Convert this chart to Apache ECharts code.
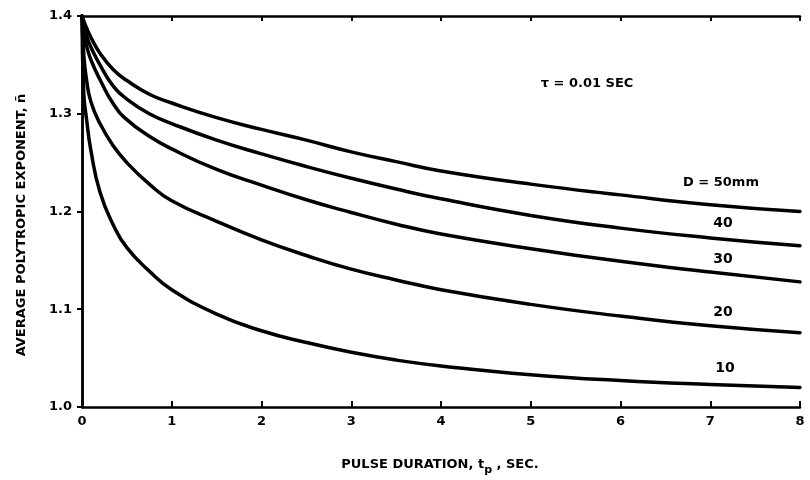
<!DOCTYPE html>
<html><head><meta charset="utf-8">
<script src="https://cdn.jsdelivr.net/npm/echarts@6/dist/echarts.min.js"></script>
<style>html,body{margin:0;padding:0;background:#fff}#c{width:810px;height:480px}</style>
</head><body><div id="c"></div>
<script>
// Pulse duration t_p (sec)
const tp  = [0, 0.02, 0.05, 0.1, 0.2, 0.35, 0.5, 0.75, 1, 1.5, 2, 2.5, 3, 3.5, 4, 5, 6, 7, 8];
// Average polytropic exponent for each diameter D
const n10 = [1.40, 1.320, 1.295, 1.262, 1.220, 1.186, 1.163, 1.139, 1.120, 1.095, 1.078, 1.066, 1.056, 1.048, 1.042, 1.033, 1.027, 1.023, 1.020];
const n20 = [1.40, 1.360, 1.335, 1.312, 1.290, 1.267, 1.250, 1.228, 1.211, 1.190, 1.171, 1.155, 1.141, 1.130, 1.120, 1.105, 1.093, 1.083, 1.076];
const n30 = [1.40, 1.385, 1.370, 1.355, 1.335, 1.310, 1.294, 1.277, 1.264, 1.243, 1.227, 1.212, 1.199, 1.187, 1.177, 1.162, 1.149, 1.138, 1.128];
const n40 = [1.40, 1.390, 1.380, 1.368, 1.350, 1.328, 1.315, 1.300, 1.290, 1.273, 1.259, 1.246, 1.234, 1.223, 1.213, 1.196, 1.183, 1.173, 1.165];
const n50 = [1.40, 1.395, 1.388, 1.378, 1.362, 1.345, 1.334, 1.320, 1.311, 1.296, 1.284, 1.273, 1.261, 1.251, 1.2415, 1.228, 1.217, 1.207, 1.200];
const curveLabels = ['10', '20', '30', '40', 'D = 50mm'];
const xTickLabels = ['0','1','2','3','4','5','6','7','8'];
const yTickLabels = ['1.0','1.1','1.2','1.3','1.4'];
const tauNote = 'τ = 0.01 SEC';

const allN = [n10, n20, n30, n40, n50];
const FONT = 'DejaVu Sans';
const chart = echarts.init(document.getElementById('c'));

const series = allN.map((arr, i) => ({
  type: 'line',
  name: curveLabels[i],
  data: tp.map((t, k) => [t, arr[k]]),
  smooth: 0.5,
  showSymbol: false,
  lineStyle: { color: '#000', width: 3.5, join: 'round', cap: 'round' },
  animation: false
}));

const axisCommon = {
  axisLine: { show: true, lineStyle: { color: '#000', width: 2.5 } },
  splitLine: { show: false }
};

chart.setOption({
  backgroundColor: '#fff',
  animation: false,
  grid: { left: 82, right: 10, top: 16, bottom: 73, show: false },
  xAxis: [
    Object.assign({
      type: 'value', min: 0, max: 8, interval: 1, position: 'bottom',
      axisTick: { show: true, inside: true, length: 6, lineStyle: { color: '#000', width: 2 } },
      axisLabel: { color: '#000', fontFamily: FONT, fontWeight: 'bold', fontSize: 13, margin: 8,
        formatter: v => xTickLabels[Math.round(v)] }
    }, axisCommon),
    Object.assign({
      type: 'value', min: 0, max: 8, interval: 1, position: 'top',
      axisTick: { show: true, inside: true, length: 5, lineStyle: { color: '#000', width: 2 } },
      axisLabel: { show: false }
    }, axisCommon)
  ],
  yAxis: [
    Object.assign({
      type: 'value', min: 1.0, max: 1.4, interval: 0.1, position: 'left',
      axisTick: { show: true, inside: false, length: 4, lineStyle: { color: '#000', width: 2 } },
      axisLabel: { color: '#000', fontFamily: FONT, fontWeight: 'bold', fontSize: 13, margin: 10,
        formatter: v => yTickLabels[Math.round((v - 1.0) * 10)] }
    }, axisCommon),
    Object.assign({
      type: 'value', min: 1.0, max: 1.4, interval: 0.1, position: 'right',
      axisTick: { show: true, inside: true, length: 5, lineStyle: { color: '#000', width: 2 } },
      axisLabel: { show: false }
    }, axisCommon)
  ],
  series: series,
  graphic: [
    { type: 'text', x: 22, y: 225, rotation: Math.PI / 2,
      style: { text: 'AVERAGE POLYTROPIC EXPONENT, n̄', fill: '#000', font: 'bold 13px ' + FONT,
        align: 'center', verticalAlign: 'middle' } },
    { type: 'text', x: 440, y: 465,
      style: { text: 'PULSE DURATION, t{sub|p} , SEC.', fill: '#000', font: 'bold 13px ' + FONT,
        align: 'center', verticalAlign: 'middle',
        rich: { sub: { fontSize: 11, fontWeight: 'bold', fontFamily: FONT, padding: [11, 0, 0, 0] } } } },
    { type: 'text', x: 587, y: 84,
      style: { text: tauNote, fill: '#000', font: 'bold 13px ' + FONT, align: 'center', verticalAlign: 'middle' } },
    { type: 'text', x: 721, y: 183,
      style: { text: curveLabels[4], fill: '#000', font: 'bold 13px ' + FONT, align: 'center', verticalAlign: 'middle' } },
    { type: 'text', x: 723, y: 223,
      style: { text: curveLabels[3], fill: '#000', font: 'bold 14px ' + FONT, align: 'center', verticalAlign: 'middle' } },
    { type: 'text', x: 723, y: 259,
      style: { text: curveLabels[2], fill: '#000', font: 'bold 14px ' + FONT, align: 'center', verticalAlign: 'middle' } },
    { type: 'text', x: 723, y: 312,
      style: { text: curveLabels[1], fill: '#000', font: 'bold 14px ' + FONT, align: 'center', verticalAlign: 'middle' } },
    { type: 'text', x: 725, y: 368,
      style: { text: curveLabels[0], fill: '#000', font: 'bold 14px ' + FONT, align: 'center', verticalAlign: 'middle' } }
  ]
});
</script>
</body></html>
